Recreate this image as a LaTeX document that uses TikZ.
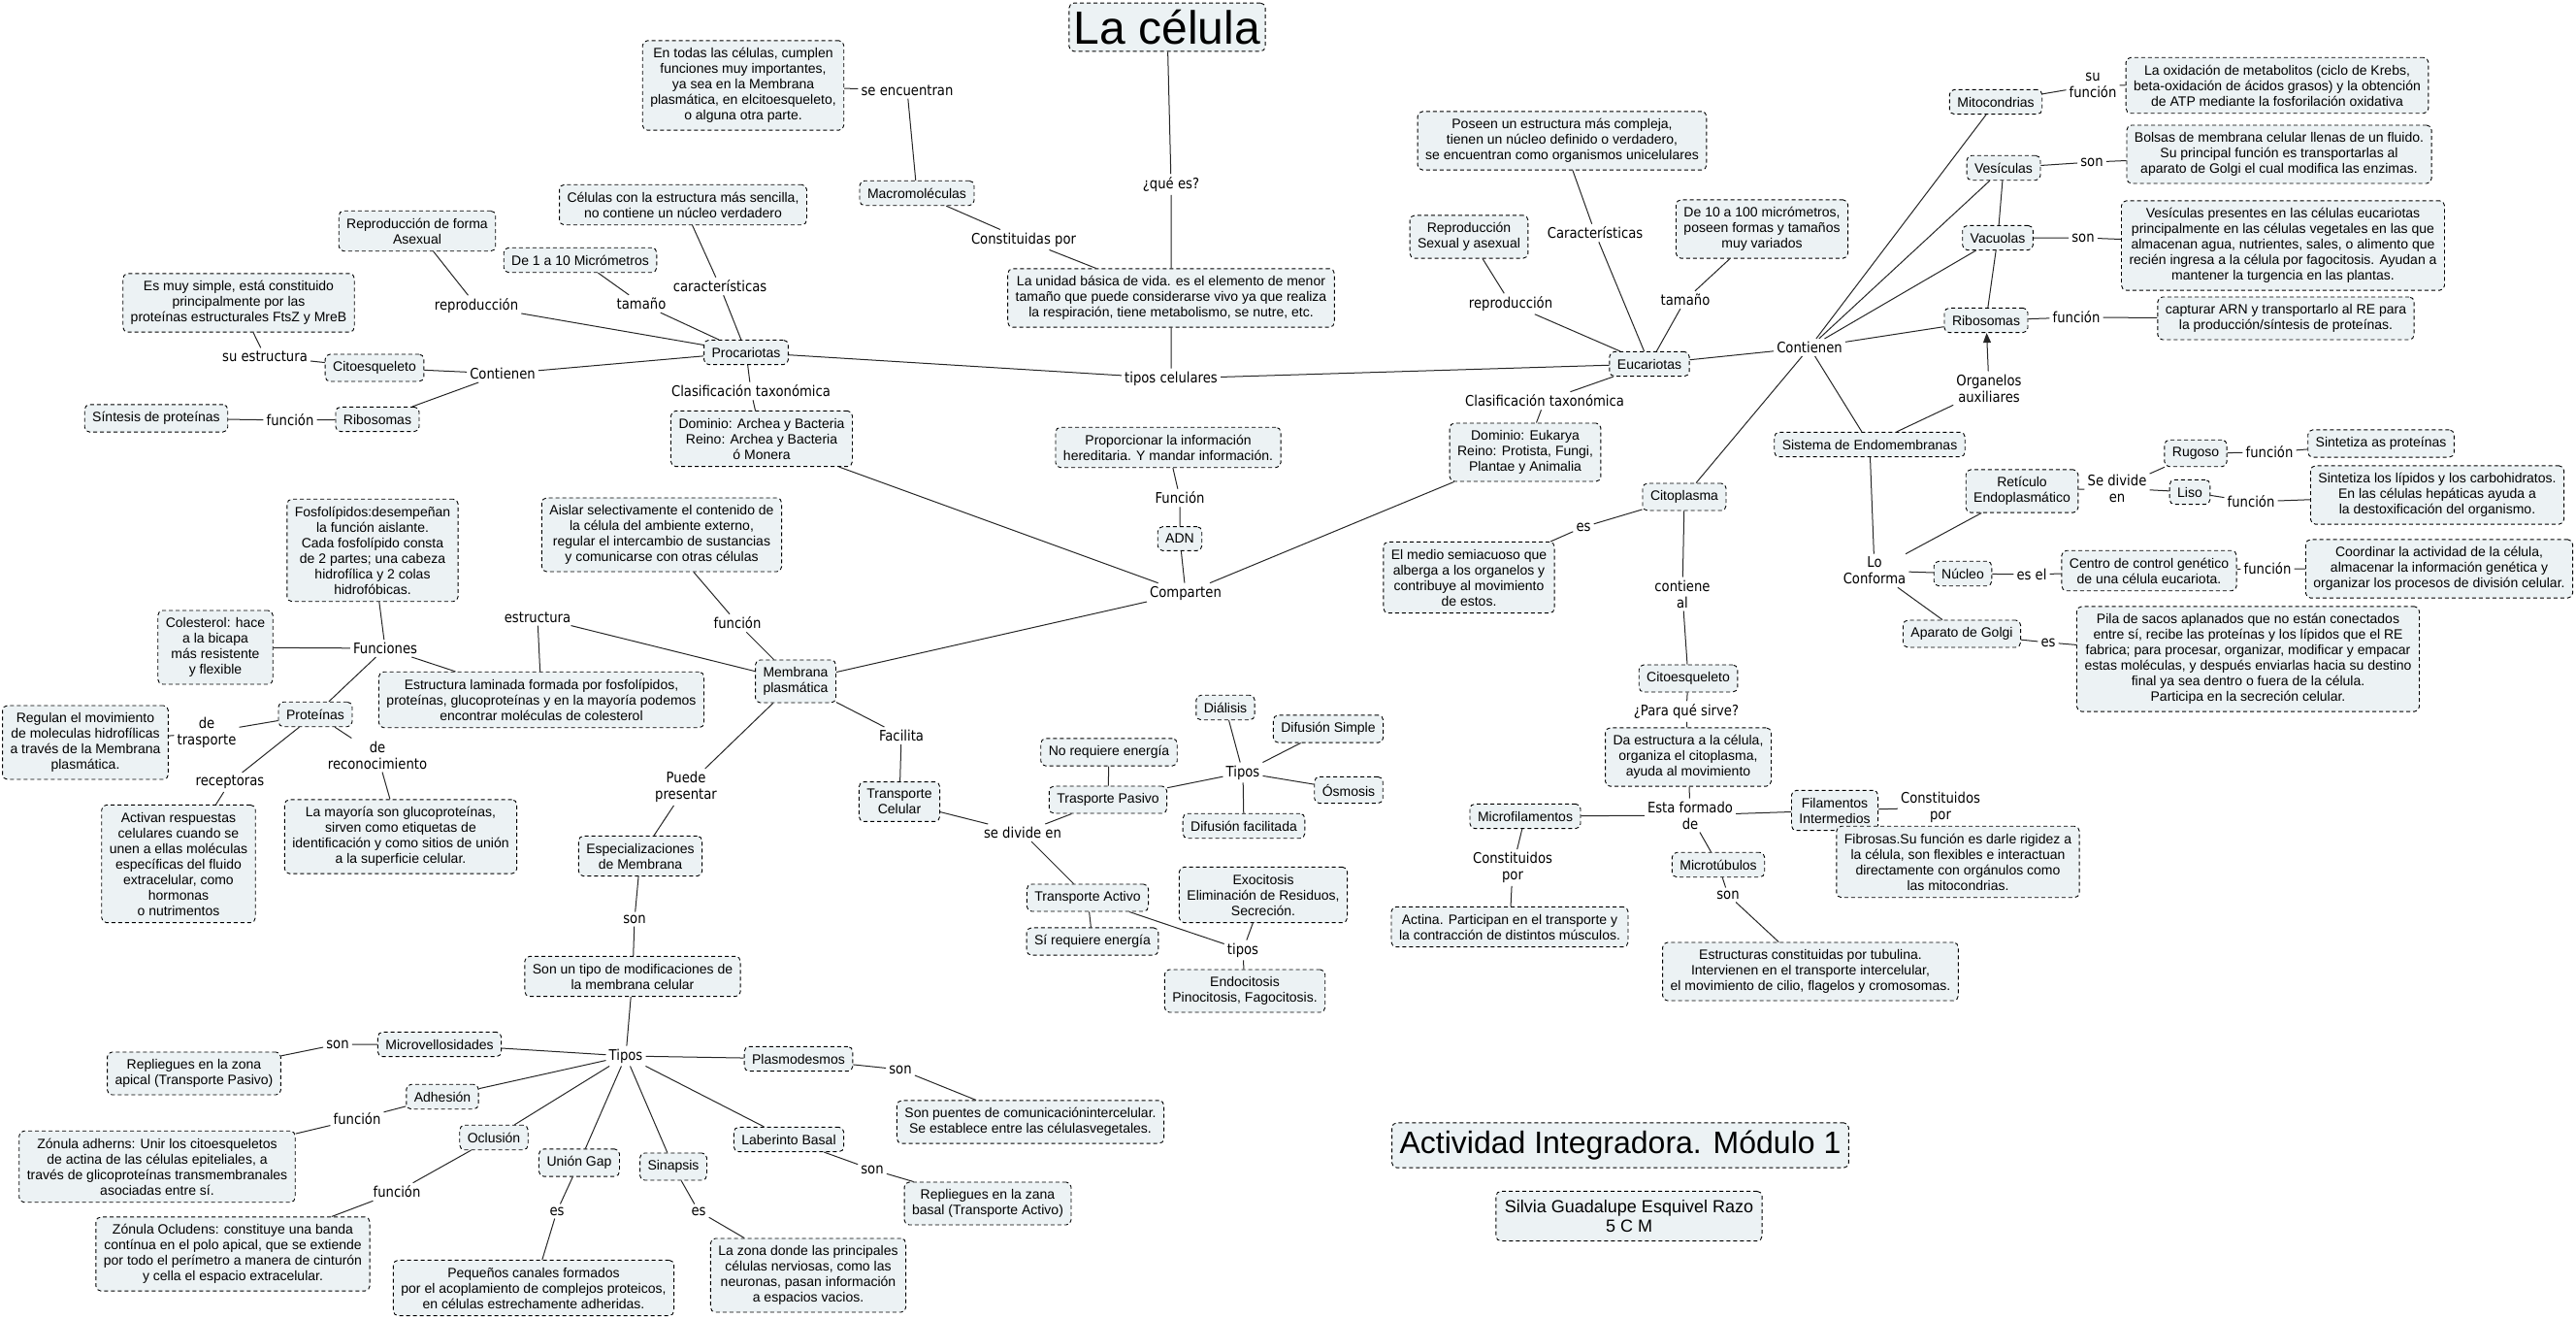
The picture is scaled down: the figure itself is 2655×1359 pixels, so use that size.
\documentclass[tikz,border=0pt]{standalone}
\usepackage{fontspec}
\setmainfont{Liberation Sans}
\newfontfamily\linkfont[FakeStretch=0.88]{DejaVu Sans}
\usetikzlibrary{arrows.meta}
\definecolor{boxfill}{HTML}{ECF2F4}
\tikzset{
  cbox/.style={draw,dash pattern=on 4pt off 3pt,line width=.9pt,rounded corners=5pt,fill=boxfill,
    inner xsep=8pt,inner ysep=7.5pt,align=center,font=\fontsize{14}{16}\selectfont},
  titlebox/.style={cbox,inner xsep=5pt,inner ysep=7pt,font=\fontsize{48}{50}\selectfont},
  clabel/.style={inner sep=3pt,align=center,font=\linkfont\fontsize{15}{17}\selectfont},
  clink/.style={line width=1pt,black!85},
  carrow/.style={clink,-{Triangle[length=10pt,width=8pt]}}
}
\begin{document}
\begin{tikzpicture}[x=1pt,y=-1pt]
  \useasboundingbox (0,0) rectangle (2655,1359);
  \node[titlebox] (titulo) at (1203,28) {La célula};
  \node[cbox] (unidad) at (1207,307) {La unidad básica de vida. es el elemento de menor\\tamaño que puede considerarse vivo ya que realiza\\la respiración, tiene metabolismo, se nutre, etc.};
  \node[cbox] (macro) at (945,199) {Macromoléculas};
  \node[cbox] (entodas) at (766,88) {En todas las células, cumplen\\funciones muy importantes,\\ya sea en la Membrana\\plasmática, en elcitoesqueleto,\\o alguna otra parte.};
  \node[cbox] (celsimple) at (704,211) {Células con la estructura más sencilla,\\no contiene un núcleo verdadero};
  \node[cbox] (repasex) at (430,238) {Reproducción de forma\\Asexual};
  \node[cbox] (de1a10) at (598,268) {De 1 a 10 Micrómetros};
  \node[cbox] (muysimple) at (246,312) {Es muy simple, está constituido\\principalmente por las\\proteínas estructurales FtsZ y MreB};
  \node[cbox] (citoesqA) at (386,379) {Citoesqueleto};
  \node[cbox] (sintesis) at (161,431) {Síntesis de proteínas};
  \node[cbox] (riboA) at (389,432) {Ribosomas};
  \node[cbox] (procar) at (769,363) {Procariotas};
  \node[cbox] (domArch) at (785,452) {Dominio: Archea y Bacteria\\Reino: Archea y Bacteria\\ó Monera};
  \node[cbox] (proporc) at (1204,461) {Proporcionar la información\\hereditaria. Y mandar información.};
  \node[cbox] (adn) at (1216,555) {ADN};
  \node[cbox] (poseen) at (1610,145) {Poseen un estructura más compleja,\\tienen un núcleo definido o verdadero,\\se encuentran como organismos unicelulares};
  \node[cbox] (repsex) at (1514,244) {Reproducción\\Sexual y asexual};
  \node[cbox] (de10a100) at (1816,236) {De 10 a 100 micrómetros,\\poseen formas y tamaños\\muy variados};
  \node[cbox] (eucar) at (1700,375) {Eucariotas};
  \node[cbox] (domEuk) at (1572,466) {Dominio: Eukarya\\Reino: Protista, Fungi,\\Plantae y Animalia};
  \node[cbox] (sisEndo) at (1927,458) {Sistema de Endomembranas};
  \node[cbox] (mito) at (2057,105) {Mitocondrias};
  \node[cbox] (oxid) at (2347,88) {La oxidación de metabolitos (ciclo de Krebs,\\beta-oxidación de ácidos grasos) y la obtención\\de ATP mediante la fosforilación oxidativa};
  \node[cbox] (vesic) at (2065,173) {Vesículas};
  \node[cbox] (bolsas) at (2349,159) {Bolsas de membrana celular llenas de un fluido.\\Su principal función es transportarlas al\\aparato de Golgi el cual modifica las enzimas.};
  \node[cbox] (vacuo) at (2059,245) {Vacuolas};
  \node[cbox] (vespres) at (2353,253) {Vesículas presentes en las células eucariotas\\principalmente en las células vegetales en las que\\almacenan agua, nutrientes, sales, o alimento que\\recién ingresa a la célula por fagocitosis. Ayudan a\\mantener la turgencia en las plantas.};
  \node[cbox] (riboB) at (2047,330) {Ribosomas};
  \node[cbox] (capturar) at (2356,328) {capturar ARN y transportarlo al RE para\\la producción/síntesis de proteínas.};
  \node[cbox] (reticulo) at (2084,506) {Retículo\\Endoplasmático};
  \node[cbox] (rugoso) at (2263,467) {Rugoso};
  \node[cbox] (sintProt) at (2454,457) {Sintetiza as proteínas};
  \node[cbox] (liso) at (2257,507) {Liso};
  \node[cbox] (sintLip) at (2512,510) {Sintetiza los lípidos y los carbohidratos.\\En las células hepáticas ayuda a\\la destoxificación del organismo.};
  \node[cbox] (nucleo) at (2023,591) {Núcleo};
  \node[cbox] (centro) at (2215,588) {Centro de control genético\\de una célula eucariota.};
  \node[cbox] (coordinar) at (2514,586) {Coordinar la actividad de la célula,\\almacenar la información genética y\\organizar los procesos de división celular.};
  \node[cbox] (golgi) at (2022,653) {Aparato de Golgi};
  \node[cbox] (pila) at (2317,679) {Pila de sacos aplanados que no están conectados\\entre sí, recibe las proteínas y los lípidos que el RE\\fabrica; para procesar, organizar, modificar y empacar\\estas moléculas, y después enviarlas hacia su destino\\final ya sea dentro o fuera de la célula.\\Participa en la secreción celular.};
  \node[cbox] (citopl) at (1736,512) {Citoplasma};
  \node[cbox] (medio) at (1514,595) {El medio semiacuoso que\\alberga a los organelos y\\contribuye al movimiento\\de estos.};
  \node[cbox] (citoesqB) at (1740,699) {Citoesqueleto};
  \node[cbox] (daestr) at (1740,780) {Da estructura a la célula,\\organiza el citoplasma,\\ayuda al movimiento};
  \node[cbox] (microfil) at (1572,841) {Microfilamentos};
  \node[cbox] (filint) at (1891,835) {Filamentos\\Intermedios};
  \node[cbox] (fibrosas) at (2018,888) {Fibrosas.Su función es darle rigidez a\\la célula, son flexibles e interactuan\\directamente con orgánulos como\\las mitocondrias.};
  \node[cbox] (microtub) at (1771,891) {Microtúbulos};
  \node[cbox] (actina) at (1556,955) {Actina. Participan en el transporte y\\la contracción de distintos músculos.};
  \node[cbox] (tubulina) at (1866,1001) {Estructuras constituidas por tubulina.\\Intervienen en el transporte intercelular,\\el movimiento de cilio, flagelos y cromosomas.};
  \node[cbox,inner ysep=8pt,font=\fontsize{32}{34}\selectfont] (actividad) at (1670,1180) {Actividad Integradora. Módulo 1};
  \node[cbox,inner xsep=9pt,inner ysep=9pt,font=\fontsize{18}{20}\selectfont] (silvia) at (1679,1253) {Silvia Guadalupe Esquivel Razo\\5 C M};
  \node[cbox] (aislar) at (682,551) {Aislar selectivamente el contenido de\\la célula del ambiente externo,\\regular el intercambio de sustancias\\y comunicarse con otras células};
  \node[cbox] (membrana) at (820,702) {Membrana\\plasmática};
  \node[cbox] (transcel) at (927,826) {Transporte\\Celular};
  \node[cbox] (especial) at (660,882) {Especializaciones\\de Membrana};
  \node[cbox] (noreq) at (1143,775) {No requiere energía};
  \node[cbox] (pasivo) at (1142,824) {Trasporte Pasivo};
  \node[cbox] (dialisis) at (1263,729) {Diálisis};
  \node[cbox] (difsimple) at (1369,751) {Difusión Simple};
  \node[cbox] (osmosis) at (1390,814) {Ósmosis};
  \node[cbox] (diffacil) at (1282,851) {Difusión facilitada};
  \node[cbox] (activo) at (1121,925) {Transporte Activo};
  \node[cbox] (sireq) at (1126,970) {Sí requiere energía};
  \node[cbox] (exocit) at (1302,922) {Exocitosis\\Eliminación de Residuos,\\Secreción.};
  \node[cbox] (endocit) at (1283,1021) {Endocitosis\\Pinocitosis, Fagocitosis.};
  \node[cbox] (fosfo) at (384,567) {Fosfolípidos:desempeñan\\la función aislante.\\Cada fosfolípido consta\\de 2 partes; una cabeza\\hidrofílica y 2 colas\\hidrofóbicas.};
  \node[cbox] (colest) at (222,667) {Colesterol: hace\\a la bicapa\\más resistente\\y flexible};
  \node[cbox] (laminada) at (558,721) {Estructura laminada formada por fosfolípidos,\\proteínas, glucoproteínas y en la mayoría podemos\\encontrar moléculas de colesterol};
  \node[cbox] (proteinas) at (325,736) {Proteínas};
  \node[cbox] (regulan) at (88,765) {Regulan el movimiento\\de moleculas hidrofílicas\\a través de la Membrana\\plasmática.};
  \node[cbox] (activan) at (184,890) {Activan respuestas\\celulares cuando se\\unen a ellas moléculas\\específicas del fluido\\extracelular, como\\hormonas\\o nutrimentos};
  \node[cbox] (mayoria) at (413,862) {La mayoría son glucoproteínas,\\sirven como etiquetas de\\identificación y como sitios de unión\\a la superficie celular.};
  \node[cbox] (sontipo) at (652,1006) {Son un tipo de modificaciones de\\la membrana celular};
  \node[cbox] (microvel) at (453,1076) {Microvellosidades};
  \node[cbox] (repApical) at (200,1106) {Repliegues en la zona\\apical (Transporte Pasivo)};
  \node[cbox] (adhesion) at (456,1130) {Adhesión};
  \node[cbox] (zadherns) at (162,1202) {Zónula adherns: Unir los citoesqueletos\\de actina de las células epiteliales, a\\través de glicoproteínas transmembranales\\asociadas entre sí.};
  \node[cbox] (oclusion) at (509,1172) {Oclusión};
  \node[cbox] (zocludens) at (240,1292) {Zónula Ocludens: constituye una banda\\contínua en el polo apical, que se extiende\\por todo el perímetro a manera de cinturón\\y cella el espacio extracelular.};
  \node[cbox] (uniongap) at (597,1198) {Unión Gap};
  \node[cbox] (pequenos) at (550,1327) {Pequeños canales formados\\por el acoplamiento de complejos proteicos,\\en células estrechamente adheridas.};
  \node[cbox] (sinapsis) at (694,1202) {Sinapsis};
  \node[cbox] (lazona) at (833,1314) {La zona donde las principales\\células nerviosas, como las\\neuronas, pasan información\\a espacios vacios.};
  \node[cbox] (plasmo) at (823,1091) {Plasmodesmos};
  \node[cbox] (puentes) at (1062,1156) {Son puentes de comunicaciónintercelular.\\Se establece entre las célulasvegetales.};
  \node[cbox] (laberinto) at (813,1174) {Laberinto Basal};
  \node[cbox] (repBasal) at (1018,1240) {Repliegues en la zana\\basal (Transporte Activo)};

  \node[clabel] (quees) at (1207,190) {¿qué es?};
  \node[clabel] (tiposcel) at (1207,390) {tipos celulares};
  \node[clabel] (seencuentran) at (935,93) {se encuentran};
  \node[clabel] (constituidas) at (1055,247) {Constituidas por};
  \node[clabel] (caracA) at (742,295) {características};
  \node[clabel] (tamanoA) at (661,313) {tamaño};
  \node[clabel] (reprodA) at (491,315) {reproducción};
  \node[clabel] (suestr) at (273,367) {su estructura};
  \node[clabel] (contA) at (518,385) {Contienen};
  \node[clabel] (funcA) at (299,433) {función};
  \node[clabel] (clasA) at (774,403) {Clasificación taxonómica};
  \node[clabel] (caracB) at (1644,240) {Características};
  \node[clabel] (reprodB) at (1557,313) {reproducción};
  \node[clabel] (tamanoB) at (1737,309) {tamaño};
  \node[clabel] (contB) at (1865,358) {Contienen};
  \node[clabel] (clasB) at (1592,413) {Clasificación taxonómica};
  \node[clabel] (sufunc) at (2157,88) {su\\función};
  \node[clabel] (sonVes) at (2156,167) {son};
  \node[clabel] (sonVac) at (2147,245) {son};
  \node[clabel] (funcRib) at (2140,327) {función};
  \node[clabel] (organelos) at (2050,400) {Organelos\\auxiliares};
  \node[clabel] (sedivide) at (2182,503) {Se divide\\en};
  \node[clabel] (funcRug) at (2339,466) {función};
  \node[clabel] (funcLiso) at (2320,517) {función};
  \node[clabel] (esel) at (2094,592) {es el};
  \node[clabel] (funcCentro) at (2337,586) {función};
  \node[clabel] (esGolgi) at (2111,662) {es};
  \node[clabel] (loconf) at (1932,588) {Lo\\Conforma};
  \node[clabel] (esCito) at (1632,543) {es};
  \node[clabel] (contieneal) at (1734,612) {contiene\\al};
  \node[clabel] (paraque) at (1738,733) {¿Para qué sirve?};
  \node[clabel] (estaform) at (1742,840) {Esta formado\\de};
  \node[clabel] (constR) at (2000,832) {Constituidos\\por};
  \node[clabel] (constL) at (1559,894) {Constituidos\\por};
  \node[clabel] (sonMicro) at (1781,922) {son};
  \node[clabel] (funcAdn) at (1216,513) {Función};
  \node[clabel] (comparten) at (1222,611) {Comparten};
  \node[clabel] (funcMem) at (760,642) {función};
  \node[clabel] (facilita) at (929,758) {Facilita};
  \node[clabel] (sedivEn) at (1054,858) {se divide en};
  \node[clabel] (puede) at (707,811) {Puede\\presentar};
  \node[clabel] (tiposT) at (1281,796) {Tipos};
  \node[clabel] (tiposA) at (1281,979) {tipos};
  \node[clabel] (funciones) at (397,668) {Funciones};
  \node[clabel] (estructura) at (554,636) {estructura};
  \node[clabel] (detrasp) at (213,755) {de\\trasporte};
  \node[clabel] (dereco) at (389,778) {de\\reconocimiento};
  \node[clabel] (recept) at (237,806) {receptoras};
  \node[clabel] (sonEsp) at (654,947) {son};
  \node[clabel] (tiposE) at (645,1088) {Tipos};
  \node[clabel] (sonMicrov) at (348,1076) {son};
  \node[clabel] (funcAdh) at (368,1153) {función};
  \node[clabel] (funcOcl) at (409,1228) {función};
  \node[clabel] (esGap) at (574,1248) {es};
  \node[clabel] (esSin) at (720,1248) {es};
  \node[clabel] (sonPlas) at (928,1102) {son};
  \node[clabel] (sonLab) at (899,1205) {son};

  \draw[clink] (titulo)--(quees)--(unidad)--(tiposcel);
  \draw[clink] (procar)--(tiposcel)--(eucar);
  \draw[clink] (unidad)--(constituidas)--(macro)--(seencuentran)--(entodas);
  \draw[clink] (celsimple)--(caracA)--(procar);
  \draw[clink] (de1a10)--(tamanoA)--(procar);
  \draw[clink] (repasex)--(reprodA)--(procar);
  \draw[clink] (procar)--(contA)--(citoesqA)--(suestr)--(muysimple);
  \draw[clink] (contA)--(riboA)--(funcA)--(sintesis);
  \draw[clink] (procar)--(clasA)--(domArch);
  \draw[clink] (domArch)--(comparten)--(domEuk);
  \draw[clink] (comparten)--(adn)--(funcAdn)--(proporc);
  \draw[clink] (comparten)--(membrana);
  \draw[clink] (eucar)--(clasB)--(domEuk);
  \draw[clink] (eucar)--(reprodB)--(repsex);
  \draw[clink] (eucar)--(caracB)--(poseen);
  \draw[clink] (eucar)--(tamanoB)--(de10a100);
  \draw[clink] (eucar)--(contB);
  \draw[clink] (contB)--(mito);
  \draw[clink] (contB)--(vesic);
  \draw[clink] (contB)--(vacuo);
  \draw[clink] (contB)--(riboB);
  \draw[clink] (contB)--(citopl);
  \draw[clink] (contB)--(sisEndo);
  \draw[clink] (mito)--(sufunc)--(oxid);
  \draw[clink] (vesic)--(sonVes)--(bolsas);
  \draw[clink] (vacuo)--(sonVac)--(vespres);
  \draw[clink] (riboB)--(funcRib)--(capturar);
  \draw[clink] (vesic)--(vacuo)--(riboB);
  \draw[clink] (sisEndo)--(organelos);
  \draw[carrow] (organelos)--(riboB);
  \draw[clink] (sisEndo)--(loconf);
  \draw[clink] (loconf)--(reticulo);
  \draw[clink] (loconf)--(nucleo);
  \draw[clink] (loconf)--(golgi);
  \draw[clink] (reticulo)--(sedivide);
  \draw[clink] (sedivide)--(rugoso)--(funcRug)--(sintProt);
  \draw[clink] (sedivide)--(liso)--(funcLiso)--(sintLip);
  \draw[clink] (nucleo)--(esel)--(centro)--(funcCentro)--(coordinar);
  \draw[clink] (golgi)--(esGolgi)--(pila);
  \draw[clink] (citopl)--(esCito)--(medio);
  \draw[clink] (citopl)--(contieneal)--(citoesqB)--(paraque)--(daestr)--(estaform);
  \draw[clink] (estaform)--(microfil)--(constL)--(actina);
  \draw[clink] (estaform)--(filint)--(constR)--(fibrosas);
  \draw[clink] (estaform)--(microtub)--(sonMicro)--(tubulina);
  \draw[clink] (aislar)--(funcMem)--(membrana);
  \draw[clink] (membrana)--(estructura)--(laminada)--(funciones);
  \draw[clink] (funciones)--(fosfo);
  \draw[clink] (funciones)--(colest);
  \draw[clink] (funciones)--(proteinas);
  \draw[clink] (proteinas)--(detrasp)--(regulan);
  \draw[clink] (proteinas)--(dereco)--(mayoria);
  \draw[clink] (proteinas)--(recept)--(activan);
  \draw[clink] (membrana)--(facilita)--(transcel)--(sedivEn);
  \draw[clink] (sedivEn)--(pasivo)--(noreq);
  \draw[clink] (sedivEn)--(activo)--(sireq);
  \draw[clink] (pasivo)--(tiposT);
  \draw[clink] (tiposT)--(dialisis);
  \draw[clink] (tiposT)--(difsimple);
  \draw[clink] (tiposT)--(osmosis);
  \draw[clink] (tiposT)--(diffacil);
  \draw[clink] (activo)--(tiposA);
  \draw[clink] (tiposA)--(exocit);
  \draw[clink] (tiposA)--(endocit);
  \draw[clink] (membrana)--(puede)--(especial)--(sonEsp)--(sontipo)--(tiposE);
  \draw[clink] (tiposE)--(microvel)--(sonMicrov)--(repApical);
  \draw[clink] (tiposE)--(adhesion)--(funcAdh)--(zadherns);
  \draw[clink] (tiposE)--(oclusion)--(funcOcl)--(zocludens);
  \draw[clink] (tiposE)--(uniongap)--(esGap)--(pequenos);
  \draw[clink] (tiposE)--(sinapsis)--(esSin)--(lazona);
  \draw[clink] (tiposE)--(plasmo)--(sonPlas)--(puentes);
  \draw[clink] (tiposE)--(laberinto)--(sonLab)--(repBasal);
\end{tikzpicture}
\end{document}
